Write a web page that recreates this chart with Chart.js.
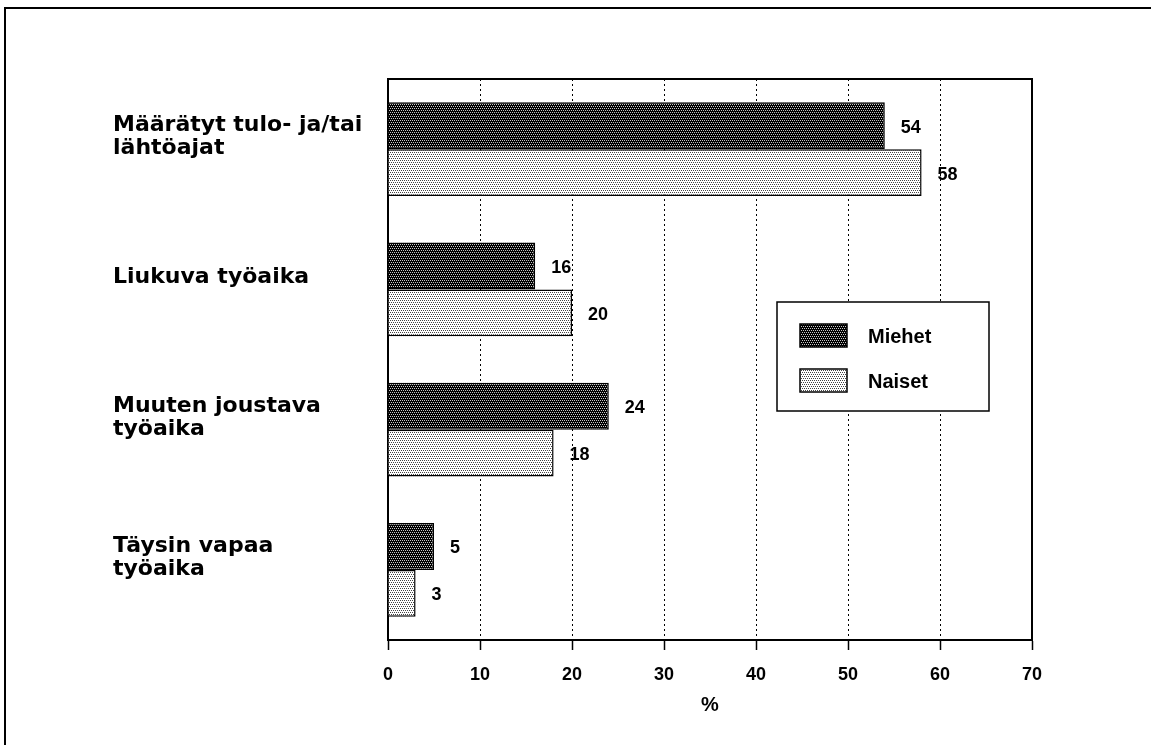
<!DOCTYPE html>
<html>
<head>
<meta charset="utf-8">
<script src="https://cdn.jsdelivr.net/npm/chart.js@4.4.1/dist/chart.umd.min.js"></script>
<style>
  html, body { margin: 0; padding: 0; background: #fff; }
  .wrap { position: relative; width: 1151px; height: 745px; overflow: hidden; }
  .frame { position: absolute; left: 4px; top: 7px; width: 1200px; height: 800px;
           border-left: 2px solid #000; border-top: 2px solid #000; }
  canvas { position: absolute; left: 0; top: 0; }
</style>
</head>
<body>
<div class="wrap">
  <div class="frame"></div>
  <canvas id="bar-chart" width="1151" height="745"></canvas>
</div>
<script>
'use strict';

const categories = [
  ['Määrätyt tulo- ja/tai', 'lähtöajat'],
  'Liukuva työaika',
  ['Muuten joustava', 'työaika'],
  ['Täysin vapaa', 'työaika']
];
const seriesNames = ['Miehet', 'Naiset'];
const miehet = [54, 16, 24, 5];
const naiset = [58, 20, 18, 3];
const xTicks = [0, 10, 20, 30, 40, 50, 60, 70];
const axisTitle = '%';

const ctxb = document.getElementById('bar-chart').getContext('2d');

// dotted fills like the old printout
const makeDots = function (bg, dot) {
  const c = document.createElement('canvas');
  c.width = 4; c.height = 4;
  const g = c.getContext('2d');
  g.fillStyle = bg;
  g.fillRect(0, 0, 4, 4);
  g.fillStyle = dot;
  [[0, 0], [2, 0], [1, 2], [3, 2]].forEach(p => g.fillRect(p[0], p[1], 1, 1));
  return ctxb.createPattern(c, 'repeat');
};
const darkDots = makeDots('#000', '#c8c8c8');
const lightDots = makeDots('#fff', '#444');

const numFont = 'bold 18px "Liberation Sans", Arial, sans-serif';

/////////////////////
//// Plugins ////////

const valueLabels = {
  id: 'valueLabels',
  afterDatasetsDraw(chart) {
    const ctx = chart.ctx;
    ctx.save();
    ctx.font = numFont;
    ctx.fillStyle = '#000';
    ctx.textAlign = 'left';
    ctx.textBaseline = 'middle';
    chart.data.datasets.forEach((ds, i) => {
      chart.getDatasetMeta(i).data.forEach((bar, j) => {
        ctx.fillText(ds.data[j], bar.x + 16, bar.y + 2);
      });
    });
    ctx.restore();
  }
};

const frameLines = {
  id: 'frameLines',
  afterDraw(chart) {
    const {ctx, chartArea: a} = chart;
    ctx.save();
    ctx.strokeStyle = '#000';
    ctx.lineWidth = 2;
    ctx.beginPath();
    ctx.moveTo(a.left - 1, a.top);
    ctx.lineTo(a.right, a.top);
    ctx.lineTo(a.right, a.bottom);
    ctx.stroke();
    ctx.restore();
  }
};

const legendBox = {
  id: 'legendBox',
  afterDraw(chart) {
    const {ctx, chartArea: a} = chart;
    const left = a.left + 389, top = a.top + 223, w = 212, h = 109;
    ctx.save();
    ctx.fillStyle = '#fff';
    ctx.fillRect(left, top, w, h);
    ctx.strokeStyle = '#000';
    ctx.lineWidth = 1.5;
    ctx.strokeRect(left, top, w, h);
    ctx.font = 'bold 20px "Liberation Sans", Arial, sans-serif';
    ctx.textAlign = 'left';
    ctx.textBaseline = 'middle';
    chart.data.datasets.forEach((ds, i) => {
      const y = top + 22 + i * 45;
      ctx.fillStyle = ds.backgroundColor;
      ctx.fillRect(left + 23, y, 47, 23);
      ctx.lineWidth = 1.5;
      ctx.strokeRect(left + 23, y, 47, 23);
      ctx.fillStyle = '#000';
      ctx.fillText(ds.label, left + 91, y + 13);
    });
    ctx.restore();
  }
};

///////////////////////
//// Bar chart ///////

const chartb = new Chart(ctxb, {
  type: 'bar',
  data: {
    labels: categories,
    datasets: [{
      label: seriesNames[0],
      data: miehet,
      backgroundColor: darkDots,
      borderColor: '#000',
      borderWidth: 1.5
    }, {
      label: seriesNames[1],
      data: naiset,
      backgroundColor: lightDots,
      borderColor: '#000',
      borderWidth: 1.5
    }]
  },
  options: {
    indexAxis: 'y',
    responsive: false,
    animation: false,
    layout: { padding: { left: 113, top: 79, right: 119, bottom: 0 } },
    datasets: { bar: { categoryPercentage: 0.67, barPercentage: 1 } },
    plugins: {
      legend: { display: false },
      tooltip: { enabled: false }
    },
    scales: {
      x: {
        min: xTicks[0],
        max: xTicks[xTicks.length - 1],
        ticks: {
          stepSize: xTicks[1] - xTicks[0],
          padding: 14,
          color: '#000',
          font: { family: '"Liberation Sans", Arial, sans-serif', weight: 'bold', size: 18 }
        },
        grid: { color: '#000', lineWidth: 1, tickLength: 10, tickColor: '#000', tickWidth: 1.5 },
        border: { color: '#000', width: 2, dash: [2, 3] },
        title: {
          display: true,
          text: axisTitle,
          color: '#000',
          font: { family: '"Liberation Sans", Arial, sans-serif', weight: 'bold', size: 20 },
          padding: { top: 0, bottom: 28 }
        },
        afterFit(s) { s.height = 105; }
      },
      y: {
        grid: { display: false },
        border: { color: '#000', width: 2 },
        ticks: {
          crossAlign: 'far',
          labelOffset: -12,
          color: '#000',
          font: { family: '"DejaVu Sans", sans-serif', weight: 'bold', size: 22, lineHeight: 1.05 }
        },
        afterFit(s) { s.width = 275; }
      }
    }
  },
  plugins: [valueLabels, frameLines, legendBox]
});
</script>
</body>
</html>
